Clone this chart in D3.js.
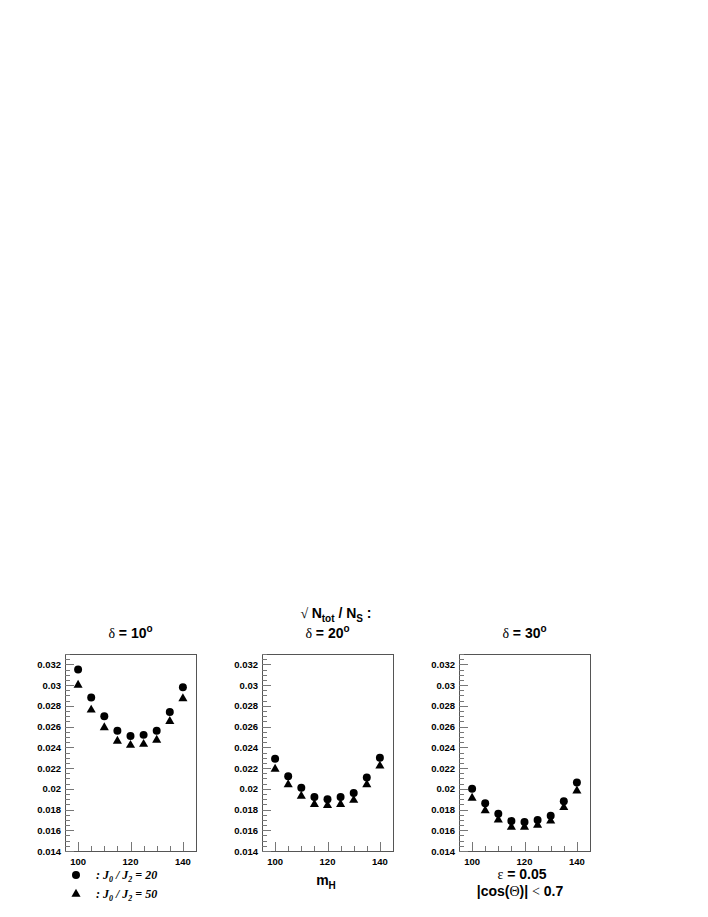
<html>
  <head>
    <meta charset="utf-8">
    <title>sqrt(Ntot)/Ns vs mH</title>
    <style>
      body { margin: 0; background: #fff; }
      .frame { fill: none; stroke: #555; stroke-width: 1; }
      .tick { stroke: #777; stroke-width: 1; }
      .tickLabel { font-family: "Liberation Sans", Arial, sans-serif; font-weight: bold; font-size: 9.5px; fill: #000; }
      .title { font-family: "Liberation Sans", Arial, sans-serif; font-weight: bold; font-size: 14px; text-anchor: middle; }
      .sym { font-family: "Liberation Serif", serif; font-weight: normal; }
      .legendText { font-family: "Liberation Serif", serif; font-style: italic; font-weight: bold; font-size: 12px; }
    </style>
  </head>
  <body>
    <script src="https://cdn.jsdelivr.net/npm/d3@7"></script>
    <script>
      // data
      var massPoints = [100, 105, 110, 115, 120, 125, 130, 135, 140];
      var panelTitles = ["10", "20", "30"];   // delta in degrees
      // J0/J2 = 20 (circles)
      var ratio20_d10 = [0.0315, 0.0288, 0.0270, 0.0256, 0.0251, 0.0252, 0.0256, 0.0274, 0.0298];
      var ratio20_d20 = [0.0229, 0.0212, 0.0201, 0.0192, 0.0190, 0.0192, 0.0196, 0.0211, 0.0230];
      var ratio20_d30 = [0.0200, 0.0186, 0.0176, 0.0169, 0.0168, 0.0170, 0.0174, 0.0188, 0.0206];
      // J0/J2 = 50 (triangles)
      var ratio50_d10 = [0.0301, 0.0277, 0.0260, 0.0247, 0.0243, 0.0244, 0.0248, 0.0266, 0.0288];
      var ratio50_d20 = [0.0220, 0.0205, 0.0194, 0.0186, 0.0185, 0.0186, 0.0190, 0.0205, 0.0223];
      var ratio50_d30 = [0.0192, 0.0180, 0.0171, 0.0164, 0.0164, 0.0166, 0.0170, 0.0183, 0.0199];
      var xTickLabels = [100, 120, 140];
      var yTickLabels = ["0.014", "0.016", "0.018", "0.02", "0.022", "0.024", "0.026", "0.028", "0.03", "0.032"];

      var circles = [ratio20_d10, ratio20_d20, ratio20_d30];
      var triangles = [ratio50_d10, ratio50_d20, ratio50_d30];

      var width = 708, height = 917;
      var svg = d3.select("body").append("svg")
                  .attr("width", width)
                  .attr("height", height);
      svg.append("rect").attr("width", width).attr("height", height).attr("fill", "#fff");

      var panelLeft = [65, 262, 459];
      var panelW = 131;
      var plotTop = 654, plotBottom = 851;

      var y = d3.scaleLinear().domain([0.014, 0.033]).range([plotBottom, plotTop]);

      var circleSym = d3.symbol().type(d3.symbolCircle).size(50);
      var triSym = d3.symbol().type(d3.symbolTriangle).size(36);

      panelLeft.forEach(function(left, p) {
        var x = d3.scaleLinear().domain([95, 145]).range([left, left + panelW]);
        var g = svg.append("g");

        g.append("rect").attr("class", "frame")
          .attr("x", left + 0.5).attr("y", plotTop + 0.5)
          .attr("width", panelW).attr("height", plotBottom - plotTop);

        // x ticks, major on labels, minor every 5
        g.selectAll(".xt").data(d3.range(100, 141, 5)).enter().append("line")
          .attr("class", "tick")
          .attr("x1", function(d) { return Math.round(x(d)) + 0.5; })
          .attr("x2", function(d) { return Math.round(x(d)) + 0.5; })
          .attr("y1", plotBottom)
          .attr("y2", function(d) { return plotBottom - (xTickLabels.indexOf(d) >= 0 ? 9 : 5); });
        g.selectAll(".xl").data(xTickLabels).enter().append("text")
          .attr("class", "tickLabel")
          .attr("text-anchor", "middle")
          .attr("x", function(d) { return x(d); })
          .attr("y", plotBottom + 14)
          .text(function(d) { return d; });

        // y ticks every 0.0005, major every 0.002
        g.selectAll(".yt").data(d3.range(0, 39)).enter().append("line")
          .attr("class", "tick")
          .attr("x1", left)
          .attr("x2", function(i) { return left + (i % 4 == 0 ? 9 : 5); })
          .attr("y1", function(i) { return Math.round(y(0.014 + i * 0.0005)) + 0.5; })
          .attr("y2", function(i) { return Math.round(y(0.014 + i * 0.0005)) + 0.5; });
        g.selectAll(".yl").data(yTickLabels).enter().append("text")
          .attr("class", "tickLabel")
          .attr("text-anchor", "end")
          .attr("x", left - 4)
          .attr("y", function(d) { return y(+d) + 3.5; })
          .text(function(d) { return d; });

        // circles
        g.selectAll(".c").data(circles[p]).enter().append("path")
          .attr("d", circleSym)
          .attr("fill", "#000")
          .attr("transform", function(d, i) { return "translate(" + x(massPoints[i]) + "," + y(d) + ")"; });
        // triangles
        g.selectAll(".t").data(triangles[p]).enter().append("path")
          .attr("d", triSym)
          .attr("fill", "#000")
          .attr("transform", function(d, i) { return "translate(" + x(massPoints[i]) + "," + (y(d) + 1) + ")"; });

        // delta title
        var t = g.append("text").attr("class", "title")
          .attr("x", left + panelW / 2).attr("y", 638);
        t.append("tspan").attr("class", "sym").text("δ");
        t.append("tspan").text(" = " + panelTitles[p]);
        t.append("tspan").attr("font-size", "10px").attr("dy", -6).text("o");
      });

      // overall title over middle panel
      var t1 = svg.append("text").attr("class", "title").attr("x", 336).attr("y", 618);
      t1.append("tspan").attr("class", "sym").text("√ ");
      t1.append("tspan").text("N");
      t1.append("tspan").attr("font-size", "10px").attr("dy", 4).text("tot");
      t1.append("tspan").attr("dy", -4).text(" / N");
      t1.append("tspan").attr("font-size", "10px").attr("dy", 4).text("S");
      t1.append("tspan").attr("dy", -4).text(" :");

      // x axis label
      var mh = svg.append("text").attr("class", "title").attr("font-size", "15px")
        .attr("x", 326).attr("y", 885);
      mh.append("tspan").text("m");
      mh.append("tspan").attr("font-size", "10px").attr("dy", 4).text("H");

      // cuts text under right panel
      var e1 = svg.append("text").attr("class", "title").attr("x", 522).attr("y", 879);
      e1.append("tspan").attr("class", "sym").text("ε");
      e1.append("tspan").text(" = 0.05");
      var e2 = svg.append("text").attr("class", "title").attr("x", 520).attr("y", 896);
      e2.append("tspan").text("|cos(");
      e2.append("tspan").attr("class", "sym").text("Θ");
      e2.append("tspan").text(")| ");
      e2.append("tspan").attr("class", "sym").text("<");
      e2.append("tspan").text(" 0.7");

      // legend
      var legend = [["20", circleSym, 875], ["50", triSym, 894]];
      legend.forEach(function(l) {
        svg.append("path").attr("d", l[1]).attr("fill", "#000")
          .attr("transform", "translate(76," + l[2] + ")");
        var lt = svg.append("text").attr("class", "legendText").attr("x", 96).attr("y", l[2] + 4);
        lt.append("tspan").text(":  J");
        lt.append("tspan").attr("font-size", "8px").attr("dy", 3).text("0");
        lt.append("tspan").attr("dy", -3).text(" / J");
        lt.append("tspan").attr("font-size", "8px").attr("dy", 3).text("2");
        lt.append("tspan").attr("dy", -3).text(" = " + l[0]);
      });
    </script>
  </body>
</html>
